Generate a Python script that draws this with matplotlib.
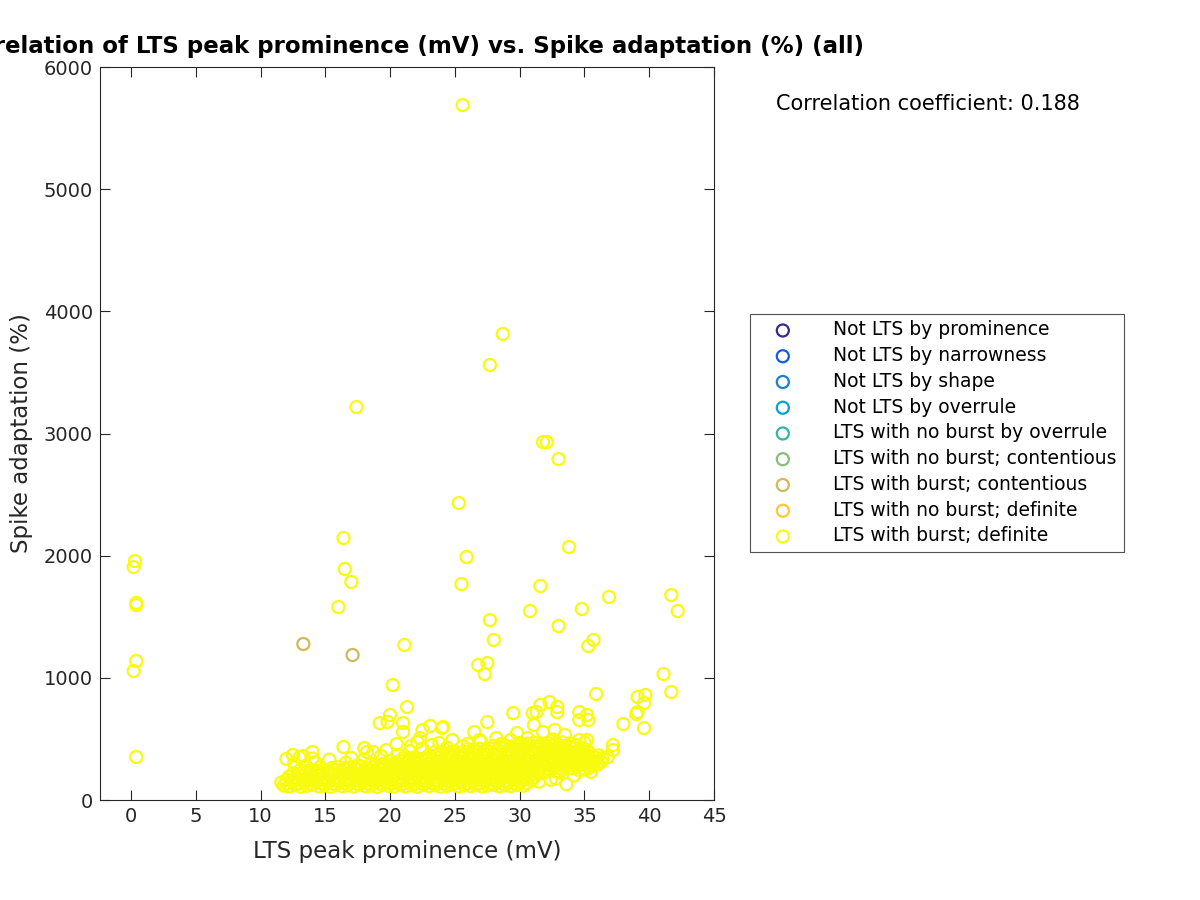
import matplotlib
matplotlib.use("Agg")
import matplotlib.pyplot as plt

plt.rcParams['font.family'] = ['DejaVu Sans']

# ---- data ----
group_labels = [
    "Not LTS by prominence",
    "Not LTS by narrowness",
    "Not LTS by shape",
    "Not LTS by overrule",
    "LTS with no burst by overrule",
    "LTS with no burst; contentious",
    "LTS with burst; contentious",
    "LTS with no burst; definite",
    "LTS with burst; definite",
]
group_colors = ["#352a87", "#0f5cdd", "#1481d6", "#06a4ca", "#2eb7a4",
                "#87bf77", "#d1b859", "#fec832", "#f9fb0e"]

# LTS with burst; contentious
contentious_prom = [13.3, 17.1]
contentious_adapt = [1277, 1187]

# LTS with burst; definite -- outliers (> 1000 %)
definite_outliers = [
    (25.6, 5689), (28.7, 3815), (27.7, 3561), (17.4, 3217), (31.8, 2930),
    (32.1, 2930), (33.0, 2791), (25.3, 2431), (33.8, 2071), (16.4, 2145),
    (25.9, 1989), (0.3, 1956), (0.2, 1907), (16.5, 1891), (17.0, 1785),
    (25.5, 1768), (31.6, 1752), (0.4, 1613), (0.4, 1596), (36.9, 1662),
    (41.7, 1678), (42.2, 1547), (34.8, 1564), (30.8, 1547), (16.0, 1580),
    (27.7, 1473), (33.0, 1424), (28.0, 1310), (35.7, 1310), (35.3, 1261),
    (21.1, 1269), (0.4, 1138), (0.2, 1056), (26.8, 1105), (27.5, 1121),
    (27.3, 1031), (41.1, 1031),
]

# LTS with burst; definite -- intermediate / edge points
definite_mid = [
    (20.2, 941), (21.3, 761), (19.2, 630), (19.8, 640), (20.0, 696), (21.0, 630),
    (21.0, 557), (22.5, 573), (23.1, 606), (24.0, 590), (16.4, 434), (18.0, 425),
    (18.2, 393), (18.7, 393), (19.7, 409), (20.5, 458), (14.0, 393), (12.5, 368),
    (12.0, 336), (13.3, 360), (21.6, 442), (22.1, 475), (22.3, 507), (23.2, 450),
    (23.8, 467), (24.8, 491), (35.9, 868), (39.1, 843), (39.7, 860), (39.6, 794),
    (39.0, 704), (39.1, 720), (38.0, 622), (39.6, 589), (29.5, 712), (32.3, 802),
    (32.9, 761), (31.6, 778), (31.3, 720), (32.9, 720), (31.0, 712), (34.6, 720),
    (35.2, 696), (34.6, 655), (35.3, 655), (27.5, 638), (24.1, 598), (31.1, 614),
    (32.7, 573), (31.8, 557), (33.5, 532), (34.6, 491), (35.2, 491), (26.5, 557),
    (26.9, 491), (28.2, 507), (29.8, 548), (30.6, 507), (34.6, 245), (41.7, 884),
    (0.4, 352),
    (26.0, 460), (27.0, 480), (28.5, 455), (29.3, 490), (32.6, 495), (35.0, 470),
    (37.2, 450), (37.2, 409), (36.8, 352), (22.5, 420), (21.5, 400), (23.5, 395),
    (24.4, 430), (25.6, 440), (20.6, 370), (19.3, 360), (17.0, 345), (18.0, 335),
    (15.3, 330), (14.0, 340), (13.0, 350), (12.6, 300), (13.5, 280), (14.2, 310),
    (16.6, 305), (17.5, 285), (31.5, 150), (32.8, 175), (33.6, 130), (34.2, 200),
    (33.0, 225), (35.0, 250), (36.0, 300), (35.5, 230), (32.4, 165), (34.5, 310),
]

# LTS with burst; definite -- dense cluster, row by row
definite_cluster = [
    (11.8, 118), (12.2, 112), (12.7, 121), (13.1, 109), (13.6, 117), (14.0, 124),
    (14.5, 111), (14.9, 119), (15.4, 108), (15.8, 122), (16.3, 114), (16.7, 120),
    (17.2, 110), (17.6, 125), (18.1, 113), (18.5, 118), (19.0, 107), (19.4, 123),
    (19.9, 115), (20.3, 110), (20.8, 121), (21.2, 112), (21.7, 119), (22.1, 108),
    (22.6, 124), (23.0, 114), (23.5, 120), (23.9, 109), (24.4, 117), (24.8, 125),
    (25.3, 111), (25.7, 119), (26.2, 113), (26.6, 122), (27.1, 110), (27.5, 118),
    (28.0, 124), (28.4, 112), (28.9, 120), (29.3, 115), (29.8, 123), (30.3, 117),

    (11.6, 143), (12.0, 136), (12.5, 147), (12.9, 138), (13.4, 142), (13.8, 135),
    (14.3, 146), (14.7, 139), (15.2, 144), (15.6, 133), (16.1, 148), (16.5, 137),
    (17.0, 141), (17.4, 134), (17.9, 146), (18.3, 139), (18.8, 143), (19.2, 136),
    (19.7, 148), (20.1, 138), (20.6, 142), (21.0, 133), (21.5, 145), (21.9, 140),
    (22.4, 136), (22.8, 147), (23.3, 139), (23.7, 143), (24.2, 134), (24.6, 146),
    (25.1, 138), (25.5, 142), (26.0, 135), (26.4, 148), (26.9, 137), (27.3, 144),
    (27.8, 139), (28.2, 146), (28.7, 134), (29.1, 141), (29.6, 138), (30.0, 145),
    (30.5, 136),

    (12.0, 168), (12.4, 160), (12.9, 171), (13.3, 163), (13.8, 166), (14.2, 159),
    (14.7, 172), (15.1, 164), (15.6, 169), (16.0, 158), (16.5, 170), (16.9, 162),
    (17.4, 167), (17.8, 160), (18.3, 173), (18.7, 164), (19.2, 168), (19.6, 159),
    (20.1, 171), (20.5, 163), (21.0, 166), (21.4, 158), (21.9, 172), (22.3, 165),
    (22.8, 161), (23.2, 170), (23.7, 163), (24.1, 168), (24.6, 159), (25.0, 172),
    (25.5, 164), (25.9, 167), (26.4, 160), (26.8, 171), (27.3, 162), (27.7, 169),
    (28.2, 164), (28.6, 172), (29.1, 158), (29.5, 166), (30.0, 161), (30.4, 170),
    (30.9, 163),

    (12.2, 192), (12.7, 186), (13.1, 195), (13.6, 184), (14.0, 191), (14.5, 197),
    (14.9, 185), (15.4, 193), (15.8, 188), (16.3, 196), (16.7, 183), (17.2, 190),
    (17.6, 194), (18.1, 186), (18.5, 192), (19.0, 185), (19.4, 197), (19.9, 189),
    (20.3, 193), (20.8, 184), (21.2, 196), (21.7, 188), (22.1, 191), (22.6, 185),
    (23.0, 197), (23.5, 189), (23.9, 194), (24.4, 183), (24.8, 192), (25.3, 187),
    (25.7, 196), (26.2, 185), (26.6, 193), (27.1, 188), (27.5, 197), (28.0, 184),
    (28.4, 191), (28.9, 195), (29.3, 186), (29.8, 193), (30.2, 188), (30.7, 196),
    (31.1, 185),

    (12.5, 218), (12.9, 211), (13.4, 220), (13.8, 213), (14.3, 217), (14.7, 209),
    (15.2, 222), (15.6, 214), (16.1, 219), (16.5, 210), (17.0, 221), (17.4, 213),
    (17.9, 216), (18.3, 209), (18.8, 223), (19.2, 214), (19.7, 218), (20.1, 210),
    (20.6, 221), (21.0, 213), (21.5, 217), (21.9, 208), (22.4, 222), (22.8, 215),
    (23.3, 211), (23.7, 220), (24.2, 213), (24.6, 218), (25.1, 209), (25.5, 222),
    (26.0, 214), (26.4, 217), (26.9, 210), (27.3, 221), (27.8, 212), (28.2, 219),
    (28.7, 214), (29.1, 222), (29.6, 208), (30.0, 216), (30.5, 211), (30.9, 220),
    (31.4, 213), (31.8, 218),

    (13.0, 243), (13.5, 236), (13.9, 245), (14.4, 238), (14.8, 242), (15.3, 235),
    (15.7, 247), (16.2, 239), (16.6, 244), (17.1, 234), (17.5, 246), (18.0, 237),
    (18.4, 241), (18.9, 235), (19.3, 248), (19.8, 239), (20.2, 243), (20.7, 235),
    (21.1, 246), (21.6, 238), (22.0, 242), (22.5, 233), (22.9, 247), (23.4, 240),
    (23.8, 236), (24.3, 245), (24.7, 238), (25.2, 243), (25.6, 234), (26.1, 247),
    (26.5, 239), (27.0, 242), (27.4, 235), (27.9, 246), (28.3, 237), (28.8, 244),
    (29.2, 239), (29.7, 247), (30.1, 233), (30.6, 241), (31.0, 236), (31.5, 245),
    (31.9, 238), (32.4, 243), (32.8, 235), (33.3, 246),

    (14.6, 268), (15.5, 262), (16.0, 270), (16.4, 263), (16.9, 267), (17.3, 260),
    (17.8, 272), (18.2, 264), (18.7, 269), (19.1, 259), (19.6, 271), (20.0, 262),
    (20.5, 266), (20.9, 260), (21.4, 273), (21.8, 264), (22.3, 268), (22.7, 259),
    (23.2, 271), (23.6, 263), (24.1, 267), (24.5, 258), (25.0, 272), (25.4, 265),
    (25.9, 261), (26.3, 270), (26.8, 263), (27.2, 268), (27.7, 259), (28.1, 272),
    (28.6, 264), (29.0, 267), (29.5, 260), (29.9, 271), (30.4, 262), (30.8, 269),
    (31.3, 264), (31.7, 272), (32.2, 258), (32.6, 266), (33.1, 261), (33.5, 270),
    (34.0, 263), (34.4, 268), (34.9, 260), (35.4, 266),

    (18.5, 293), (19.0, 286), (19.4, 295), (19.9, 288), (20.3, 292), (20.8, 285),
    (21.2, 297), (21.7, 289), (22.1, 294), (22.6, 284), (23.0, 296), (23.5, 287),
    (23.9, 291), (24.4, 285), (24.8, 298), (25.3, 289), (25.7, 293), (26.2, 285),
    (26.6, 296), (27.1, 288), (27.5, 292), (28.0, 283), (28.4, 297), (28.9, 290),
    (29.3, 286), (29.8, 295), (30.2, 288), (30.7, 293), (31.1, 284), (31.6, 297),
    (32.0, 289), (32.5, 292), (32.9, 285), (33.4, 296), (33.8, 287), (34.3, 294),
    (34.7, 289), (35.2, 297), (35.6, 284), (36.0, 291),

    (20.0, 318), (20.5, 311), (20.9, 320), (21.4, 313), (21.8, 317), (22.3, 309),
    (22.7, 322), (23.2, 314), (23.6, 319), (24.1, 310), (24.5, 321), (25.0, 313),
    (25.4, 316), (25.9, 309), (26.3, 323), (26.8, 314), (27.2, 318), (27.7, 310),
    (28.1, 321), (28.6, 313), (29.0, 317), (29.5, 308), (29.9, 322), (30.4, 315),
    (30.8, 311), (31.3, 320), (31.7, 313), (32.2, 318), (32.6, 309), (33.1, 322),
    (33.5, 314), (34.0, 317), (34.4, 310), (34.9, 321), (35.3, 312), (35.8, 319),
    (36.3, 314),

    (21.0, 343), (21.5, 336), (21.9, 345), (22.4, 338), (22.8, 342), (23.3, 335),
    (23.7, 347), (24.2, 339), (24.6, 344), (25.1, 334), (25.5, 346), (26.0, 337),
    (26.4, 341), (26.9, 335), (27.3, 348), (27.8, 339), (28.2, 343), (28.7, 335),
    (29.1, 346), (29.6, 338), (30.0, 342), (30.5, 333), (30.9, 347), (31.4, 340),
    (31.8, 336), (32.3, 345), (32.7, 338), (33.2, 343), (33.6, 334), (34.1, 347),
    (34.5, 339), (35.0, 342), (35.4, 335), (35.9, 346), (36.4, 340),

    (23.0, 368), (23.5, 361), (23.9, 370), (24.4, 363), (24.8, 367), (25.3, 360),
    (25.7, 372), (26.2, 364), (26.6, 369), (27.1, 359), (27.5, 371), (28.0, 362),
    (28.4, 366), (28.9, 360), (29.3, 373), (29.8, 364), (30.2, 368), (30.7, 359),
    (31.1, 371), (31.6, 363), (32.0, 367), (32.5, 358), (32.9, 372), (33.4, 365),
    (33.8, 361), (34.3, 370), (34.7, 363), (35.2, 368), (35.6, 359), (36.1, 366),

    (24.0, 393), (24.5, 386), (24.9, 395), (25.4, 388), (25.8, 392), (26.3, 385),
    (26.7, 397), (27.2, 389), (27.6, 394), (28.1, 384), (28.5, 396), (29.0, 387),
    (29.4, 391), (29.9, 385), (30.3, 398), (30.8, 389), (31.2, 393), (31.7, 385),
    (32.1, 396), (32.6, 388), (33.0, 392), (33.5, 383), (33.9, 397), (34.4, 390),
    (34.8, 386), (35.3, 395),

    (26.0, 418), (26.5, 411), (26.9, 420), (27.4, 413), (27.8, 417), (28.3, 410),
    (28.7, 422), (29.2, 414), (29.6, 419), (30.1, 409), (30.5, 421), (31.0, 412),
    (31.4, 416), (31.9, 410), (32.3, 423), (32.8, 414), (33.2, 418), (33.7, 410),
    (34.1, 421), (34.6, 413), (35.0, 417),

    (28.0, 443), (28.5, 436), (28.9, 445), (29.4, 438), (29.8, 442), (30.3, 435),
    (30.7, 447), (31.2, 439), (31.6, 444), (32.1, 434), (32.5, 446), (33.0, 437),
    (33.4, 441), (33.9, 435), (34.4, 448),

    (30.0, 468), (30.6, 461), (31.1, 470), (31.7, 463), (32.2, 467), (32.8, 460),
    (33.3, 472), (33.9, 464),
]

corr_text = "Correlation coefficient: 0.188"
title_text = "Correlation of LTS peak prominence (mV) vs. Spike adaptation (%) (all)"
x_label = "LTS peak prominence (mV)"
y_label = "Spike adaptation (%)"
x_ticks = [0, 5, 10, 15, 20, 25, 30, 35, 40, 45]
y_ticks = [0, 1000, 2000, 3000, 4000, 5000, 6000]

# ---- plot ----
fig = plt.figure(figsize=(12, 9), dpi=100)
ax = fig.add_axes([0.0833, 0.1111, 0.5117, 0.8144])

msize = 75
mlw = 1.6

definite_all = definite_cluster + definite_mid + definite_outliers
def_x = [p[0] for p in definite_all]
def_y = [p[1] for p in definite_all]

handles = []
for lab, col in zip(group_labels, group_colors):
    if lab == "LTS with burst; contentious":
        h = ax.scatter(contentious_prom, contentious_adapt, s=msize,
                       facecolors='none', edgecolors=col, linewidths=mlw,
                       label=lab, zorder=3)
    elif lab == "LTS with burst; definite":
        h = ax.scatter(def_x, def_y, s=msize, facecolors='none',
                       edgecolors=col, linewidths=mlw, label=lab, zorder=2)
    else:
        h = ax.scatter([], [], s=msize, facecolors='none', edgecolors=col,
                       linewidths=mlw, label=lab)
    handles.append(h)

ax.set_xlim(-2.4, 45)
ax.set_ylim(0, 6000)
ax.set_xticks(x_ticks)
ax.set_yticks(y_ticks)
ax.tick_params(direction='in', top=True, right=True, length=7, width=0.8,
               labelsize=14, colors='#262626', labelcolor='#262626', pad=5)
for sp in ax.spines.values():
    sp.set_color('#262626')
    sp.set_linewidth(0.8)

ax.set_xlabel(x_label, fontsize=16.5, color='#262626', labelpad=10)
ax.set_ylabel(y_label, fontsize=16.5, color='#262626', labelpad=8)
ax.set_title(title_text, fontsize=16.5, fontweight='bold', pad=10)

fig.text(0.647, 0.884, corr_text, fontsize=15, va='center', ha='left')

leg = fig.legend(handles=handles, loc='center left',
                 bbox_to_anchor=(0.625, 0.519), fontsize=13.5,
                 frameon=True, fancybox=False, edgecolor='#262626',
                 borderpad=0.35, labelspacing=0.36, handletextpad=1.3,
                 handlelength=2.8, borderaxespad=0.0)
leg.get_frame().set_linewidth(0.8)

fig.savefig("out.png", dpi=100)
